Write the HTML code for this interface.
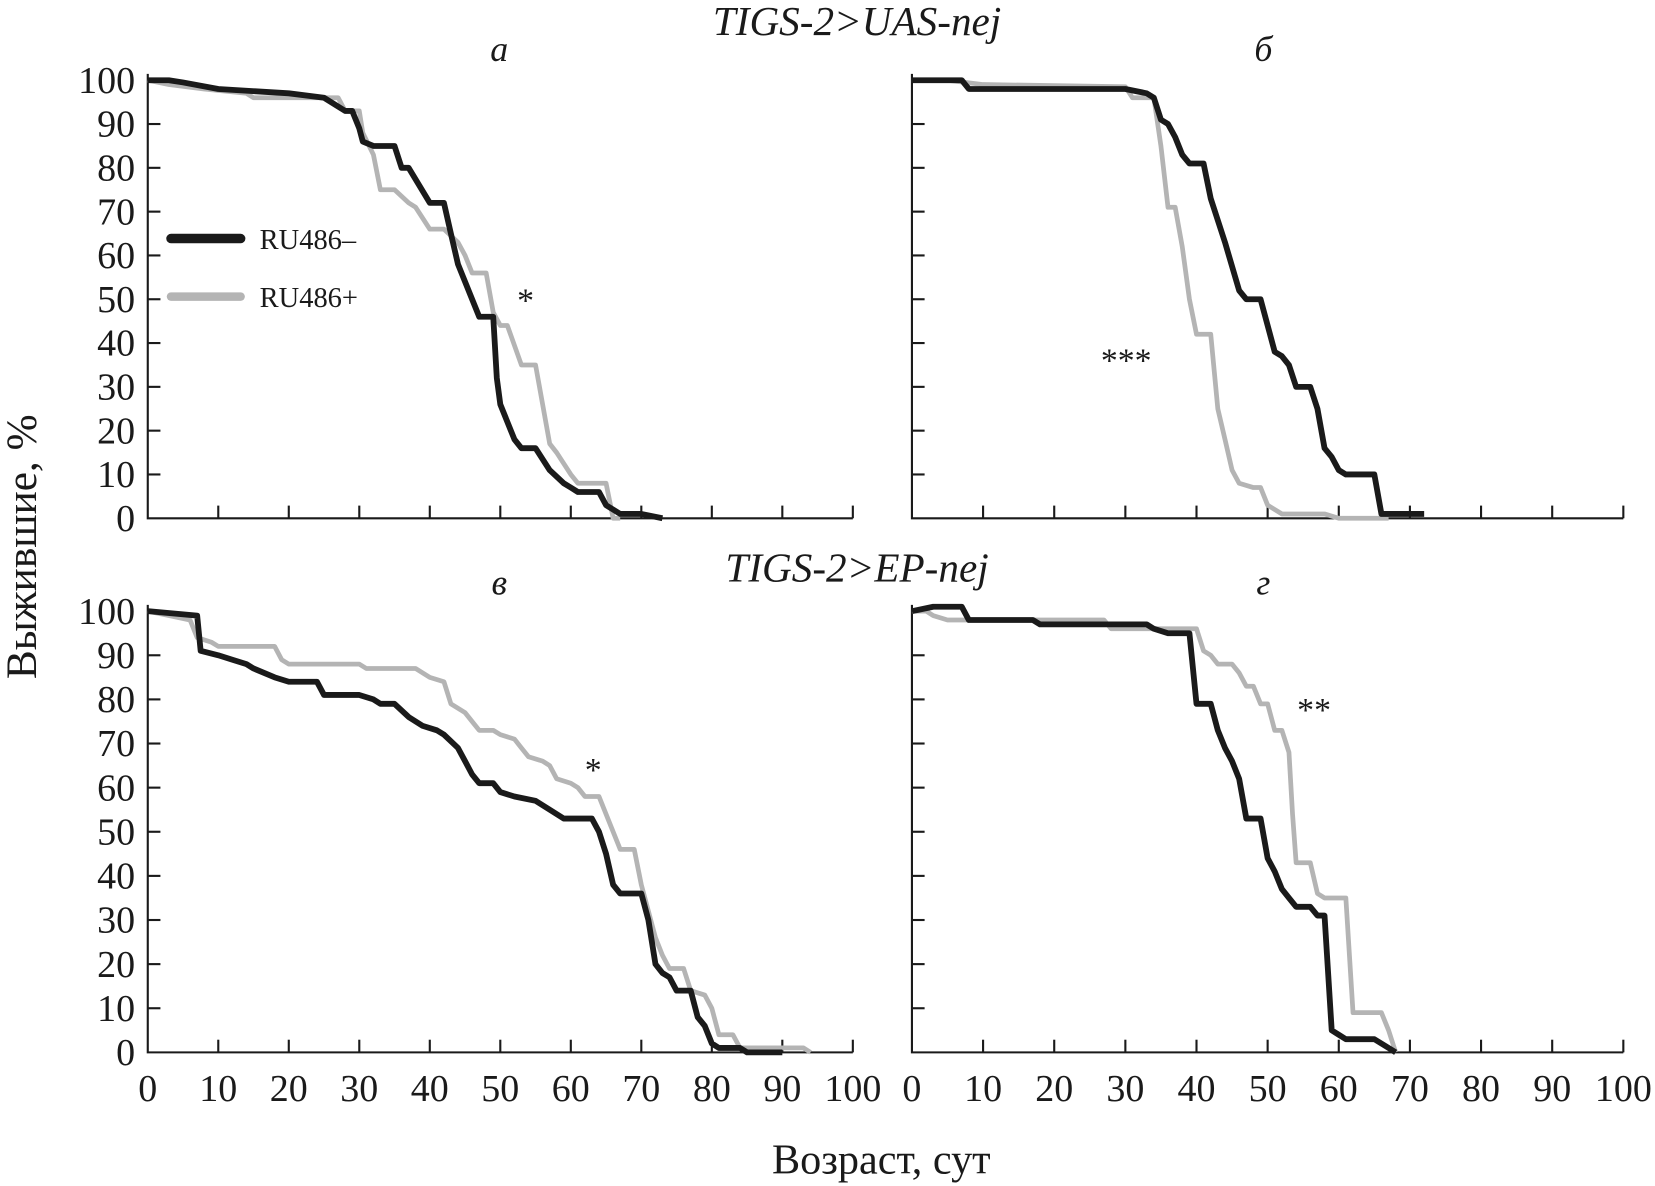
<!DOCTYPE html>
<html><head><meta charset="utf-8"><style>
html,body{margin:0;padding:0;background:#fff}
svg{display:block}
text{font-family:"Liberation Serif",serif;fill:#1a1a1a}
</style></head><body>
<svg id="chart" width="1655" height="1186" viewBox="0 0 1568 1123.6" preserveAspectRatio="none">
<g id="root"></g>
</svg>
<script>
const xTicks=[0,10,20,30,40,50,60,70,80,90,100];
const yTicks=[0,10,20,30,40,50,60,70,80,90,100];
const aBlackX=[0,3,5,10,20,25,28,29,30,30.5,32,35,36,37,40,42,43,44,46,47,49,49.5,50,52,53,55,57,59,60,61,64,65,67,70,73];
const aBlackY=[100,100,99.5,98,97,96,93,93,89,86,85,85,80,80,72,72,65,58,50,46,46,32,26,18,16,16,11,8,7,6,6,3,1,1,0];
const aGrayX=[0,3,8,14,15,27,28,30,30.5,32,33,35,37,38,40,42,44,45,46,48,49,50,51,53,55,57,58,60,61,65,66,67];
const aGrayY=[100,99,98,97,96,96,93,93,88,83,75,75,72,71,66,66,63,60,56,56,47,44,44,35,35,17,15,10,8,8,0,0];
const bBlackX=[0,7,8,30,33,34,35,36,37,38,39,41,42,44,46,47,49,50,51,52,53,54,56,57,58,59,60,61,65,66,72];
const bBlackY=[100,100,98,98,97,96,91,90,87,83,81,81,73,63,52,50,50,44,38,37,35,30,30,25,16,14,11,10,10,1,1];
const bGrayX=[0,5,10,30,31,34,35,36,37,38,39,40,42,43,44,45,46,48,49,50,52,58,60,67];
const bGrayY=[100,100,99,98.5,96,96,85,71,71,62,50,42,42,25,18,11,8,7,7,3,1,1,0,0];
const cBlackX=[0,7,7.5,10,12,14,15,18,20,24,25,30,32,33,35,37,39,41,42,44,45,46,47,49,50,52,55,57,59,63,64,65,66,67,70,71,72,73,74,75,77,78,79,80,81,84,85,90];
const cBlackY=[100,99,91,90,89,88,87,85,84,84,81,81,80,79,79,76,74,73,72,69,66,63,61,61,59,58,57,55,53,53,50,45,38,36,36,30,20,18,17,14,14,8,6,2,1,1,0,0];
const cGrayX=[0,3,6,7,9,10,18,19,20,30,31,38,40,42,43,44,45,46,47,49,50,52,53,54,56,57,58,60,61,62,64,65,66,67,69,70,71,72,73,74,76,77,79,80,81,83,84,93,94];
const cGrayY=[100,99,98,94,93,92,92,89,88,88,87,87,85,84,79,78,77,75,73,73,72,71,69,67,66,65,62,61,60,58,58,54,50,46,46,38,32,26,22,19,19,14,13,10,4,4,1,1,0];
const dBlackX=[0,3,7,8,17,18,33,34,36,39,40,42,43,44,45,46,47,49,50,51,52,53,54,56,57,58,59,60,61,65,67,68];
const dBlackY=[100,101,101,98,98,97,97,96,95,95,79,79,73,69,66,62,53,53,44,41,37,35,33,33,31,31,5,4,3,3,1,0];
const dGrayX=[0,2,3,5,27,28,40,41,42,43,45,46,47,48,49,50,51,52,53,53.5,54,56,57,58,61,62,66,67,68];
const dGrayY=[100,100,99,98,98,96,96,91,90,88,88,86,83,83,79,79,73,73,68,54,43,43,36,35,35,9,9,5,0];

const NS="http://www.w3.org/2000/svg";
const root=document.getElementById('root');
function mk(tag,attrs,parent){const e=document.createElementNS(NS,tag);for(const k in attrs)e.setAttribute(k,attrs[k]);(parent||root).appendChild(e);return e;}
function txt(x,y,s,size,extra,parent){const t=mk('text',Object.assign({x:x,y:y,'font-size':size},extra||{}),parent);t.textContent=s;return t;}

const panels=[
 {id:'a',x0:140,x1:808,yTop:76,yBot:491,bx:aBlackX,by:aBlackY,gx:aGrayX,gy:aGrayY,xlabels:false,ylabels:true},
 {id:'b',x0:864,x1:1538,yTop:76,yBot:491,bx:bBlackX,by:bBlackY,gx:bGrayX,gy:bGrayY,xlabels:false,ylabels:false},
 {id:'c',x0:140,x1:808,yTop:579,yBot:997,bx:cBlackX,by:cBlackY,gx:cGrayX,gy:cGrayY,xlabels:true,ylabels:true},
 {id:'d',x0:864,x1:1538,yTop:579,yBot:997,bx:dBlackX,by:dBlackY,gx:dGrayX,gy:dGrayY,xlabels:true,ylabels:false}
];
panels.forEach(p=>{
 const g=mk('g',{});
 
 
 const sx=v=>p.x0+(p.x1-p.x0)*v/100;
 const sy=v=>p.yBot-(p.yBot-p.yTop)*v/100;
 const ax=mk('path',{d:`M${p.x0},${p.yTop-6} V${p.yBot} H${p.x1}`,stroke:'#1a1a1a','stroke-width':2,fill:'none'},g);
 
 
 xTicks.forEach(t=>{
  if(t>0) mk('line',{x1:sx(t),x2:sx(t),y1:p.yBot,y2:p.yBot-12,stroke:'#1a1a1a','stroke-width':2},g);
  if(p.xlabels){const l=txt(sx(t),p.yBot+46,String(t),36,{'text-anchor':'middle'},g);
   
   }
 });
 yTicks.forEach(t=>{
  if(t>0) mk('line',{x1:p.x0,x2:p.x0+12,y1:sy(t),y2:sy(t),stroke:'#1a1a1a','stroke-width':2},g);
  if(p.ylabels){const l=txt(p.x0-12,sy(t)+12,String(t),36,{'text-anchor':'end'},g);
   
   }
 });
 const path=(xs,ys)=>xs.map((v,i)=>(i?'L':'M')+sx(v).toFixed(1)+','+sy(ys[i]).toFixed(1)).join(' ');
 const gl=mk('path',{d:path(p.gx,p.gy),stroke:'#b4b4b4','stroke-width':4.5,fill:'none','stroke-linejoin':'round'},g);
 
 
 const bl=mk('path',{d:path(p.bx,p.by),stroke:'#1a1a1a','stroke-width':5.5,fill:'none','stroke-linejoin':'round'},g);
 
 
});
</script>
<svg style="position:absolute;left:0;top:0" width="1655" height="1186" viewBox="0 0 1568 1123.6" preserveAspectRatio="none">
 <text x="812" y="33" font-size="39" font-style="italic" text-anchor="middle">TIGS-2&gt;UAS-nej</text>
 <text x="473" y="58" font-size="34" font-style="italic" text-anchor="middle">а</text>
 <text x="1197" y="58" font-size="34" font-style="italic" text-anchor="middle">б</text>
 <text x="812" y="551" font-size="39" font-style="italic" text-anchor="middle">TIGS-2&gt;EP-nej</text>
 <text x="473" y="563" font-size="34" font-style="italic" text-anchor="middle">в</text>
 <text x="1197" y="563" font-size="34" font-style="italic" text-anchor="middle">г</text>
 <g>
  <line x1="162" y1="226" x2="228" y2="226" stroke="#1a1a1a" stroke-width="9" stroke-linecap="round"/>
  <text x="246" y="236" font-size="27">RU486–</text>
  <line x1="162" y1="281" x2="228" y2="281" stroke="#b4b4b4" stroke-width="8" stroke-linecap="round"/>
  <text x="246" y="291" font-size="27">RU486+</text>
 </g>
 <text x="498" y="295" font-size="32" text-anchor="middle">*</text>
 <text x="1067" y="352" font-size="32" text-anchor="middle">***</text>
 <text x="562" y="740" font-size="32" text-anchor="middle">*</text>
 <text x="1245" y="683" font-size="32" text-anchor="middle">**</text>
 <text x="0" y="0" font-size="41" text-anchor="middle" transform="translate(34,518) rotate(-90)">Выжившие, %</text>
 <text x="835" y="1112" font-size="40" text-anchor="middle">Возраст, сут</text>
</svg>
</body></html>
